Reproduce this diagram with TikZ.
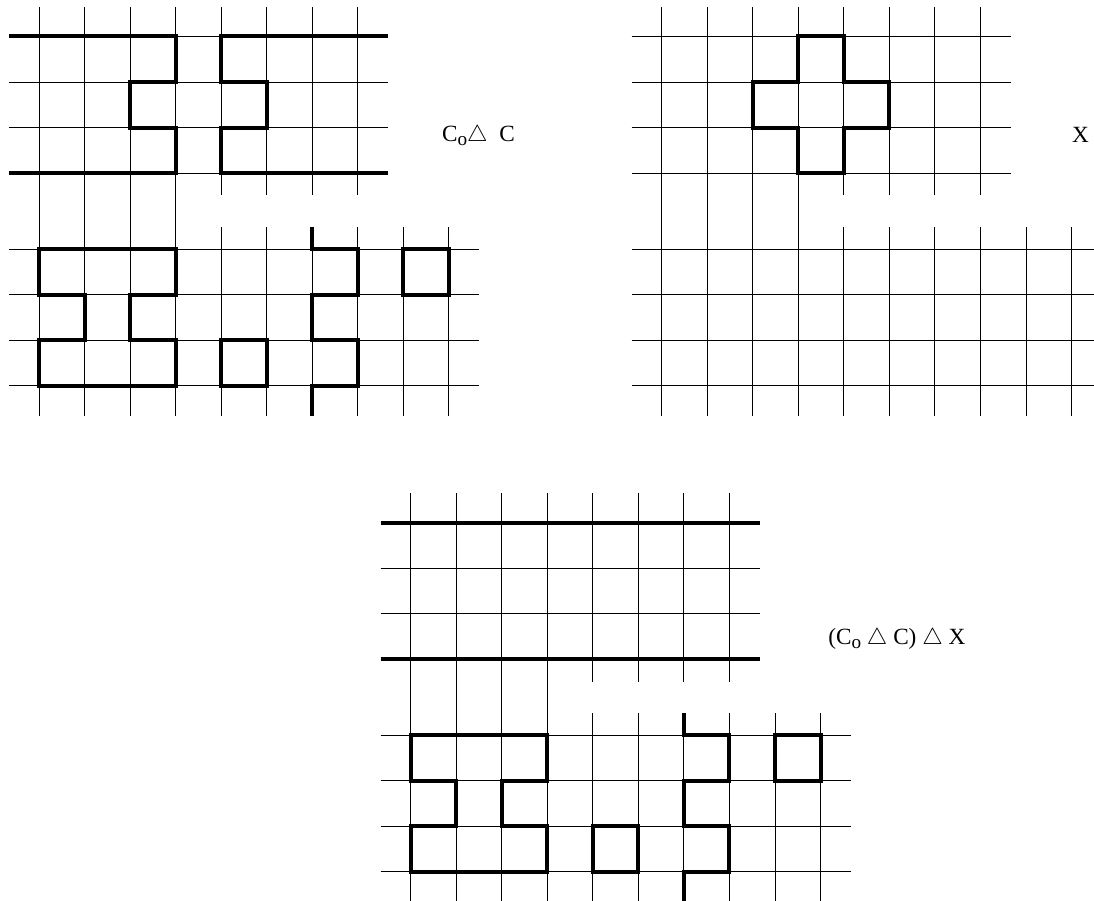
\documentclass[tikz,border=0pt]{standalone}
\usepackage{fontspec}
\setmainfont{Liberation Serif}
\usepackage{amsmath}
\usepackage{amssymb}

\tikzset{
  gridline/.style={line width=0.6pt},
  edgeline/.style={line width=2.5pt},
  lbl/.style={anchor=base west, inner sep=0pt, font=\fontsize{14.5pt}{16pt}\selectfont},
}

% one panel of the square grid, upper block and lower block
\newcommand{\gridpanel}{%
  \foreach \r in {0,...,3}
    \draw[gridline] (-0.66,-\r) -- (7.66,-\r);
  \foreach \r in {0,...,3}
    \draw[gridline] (-0.66,-4.67-\r) -- (9.66,-4.67-\r);
  \foreach \c in {0,...,3}
    \draw[gridline] (\c,0.65) -- (\c,-8.33);
  \foreach \c in {4,...,7}
    \draw[gridline] (\c,0.65) -- (\c,-3.49);
  \foreach \c in {4,...,9}
    \draw[gridline] (\c,-4.18) -- (\c,-8.33);
}

% the loops of the lower block
\newcommand{\lowerloops}{%
  \begin{scope}[shift={(0,-4.67)}]
    \draw[edgeline] (0,0) -- (3,0) -- (3,-1) -- (2,-1) -- (2,-2) -- (3,-2)
      -- (3,-3) -- (0,-3) -- (0,-2) -- (1,-2) -- (1,-1) -- (0,-1) -- cycle;
    \draw[edgeline] (4,-2) rectangle (5,-3);
    \draw[edgeline] (6,0.49) -- (6,0) -- (7,0) -- (7,-1) -- (6,-1) -- (6,-2)
      -- (7,-2) -- (7,-3) -- (6,-3) -- (6,-3.66);
    \draw[edgeline] (8,0) rectangle (9,-1);
  \end{scope}
}

\newcommand{\subo}{\raisebox{-0.35ex}{\fontsize{12pt}{13pt}\selectfont o}}

\begin{document}
\begin{tikzpicture}

\useasboundingbox (0,0) rectangle (24.02,-19.78);

% C_o triangle C
\begin{scope}[shift={(0.856,-0.801)}]
  \gridpanel
  \draw[edgeline] (-0.66,0) -- (3,0) -- (3,-1) -- (2,-1) -- (2,-2) -- (3,-2)
    -- (3,-3) -- (-0.66,-3);
  \draw[edgeline] (7.66,0) -- (4,0) -- (4,-1) -- (5,-1) -- (5,-2) -- (4,-2)
    -- (4,-3) -- (7.66,-3);
  \lowerloops
\end{scope}

% X
\begin{scope}[shift={(14.527,-0.801)}]
  \gridpanel
  \draw[edgeline] (3,0) -- (4,0) -- (4,-1) -- (5,-1) -- (5,-2) -- (4,-2)
    -- (4,-3) -- (3,-3) -- (3,-2) -- (2,-2) -- (2,-1) -- (3,-1) -- cycle;
\end{scope}

% (C_o triangle C) triangle X
\begin{scope}[shift={(9.016,-11.475)}]
  \gridpanel
  \draw[edgeline] (-0.66,0) -- (7.66,0);
  \draw[edgeline] (-0.66,-3) -- (7.66,-3);
  \lowerloops
\end{scope}

% labels
\node[lbl] (symdiff) at (9.70,-3.11) {C\subo$\triangle$\ \ C};
\node[lbl] (setx) at (23.53,-3.13) {X};
\node[lbl] (result) at (18.18,-14.16) {(C\subo\ $\triangle$ C) $\triangle$ X};

\end{tikzpicture}
\end{document}
